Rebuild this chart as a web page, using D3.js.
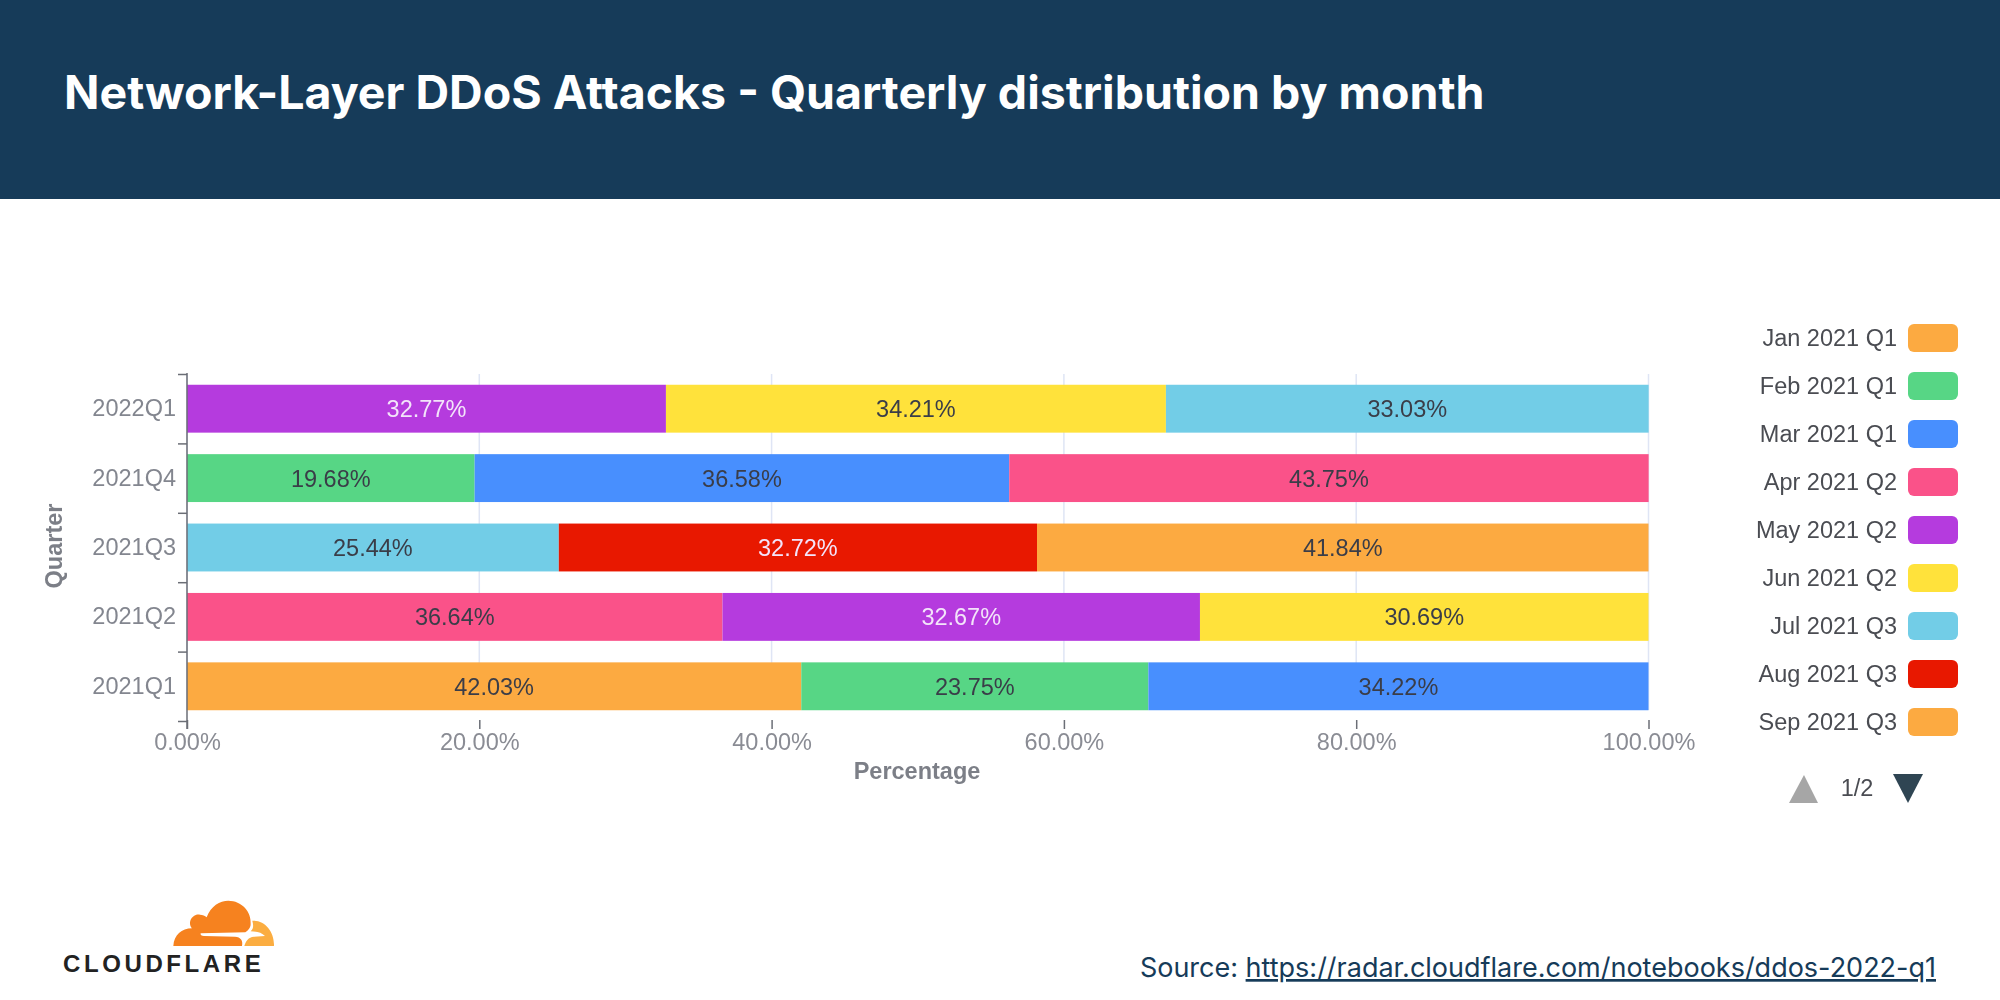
<!DOCTYPE html>
<html>
<head>
<meta charset="utf-8">
<script src="https://cdn.jsdelivr.net/npm/d3@7"></script>
<style>
  html, body { margin: 0; padding: 0; background: #fff; }
  svg { display: block; }
  text { font-family: "Liberation Sans", Arial, sans-serif; }
  .inter { font-family: Inter, sans-serif; }
  .axis path { display: none; }
</style>
</head>
<body>
<script>
// Months in legend order, page 2 of the legend is not shown in the picture
const months = [
  'Jan 2021 Q1', 'Feb 2021 Q1', 'Mar 2021 Q1',
  'Apr 2021 Q2', 'May 2021 Q2', 'Jun 2021 Q2',
  'Jul 2021 Q3', 'Aug 2021 Q3', 'Sep 2021 Q3',
  'Oct 2021 Q4', 'Nov 2021 Q4', 'Dec 2021 Q4',
  'Jan 2022 Q1', 'Feb 2022 Q1', 'Mar 2022 Q1',
];
const legendMonths = months.slice(0, 9);
const quarters = ['2022Q1', '2021Q4', '2021Q3', '2021Q2', '2021Q1'];
const palette = ['#fcaa41', '#57d685', '#488ffe', '#fa5289', '#b53bde', '#ffe23b', '#72cde7', '#e81800'];
const lightLabels = ['#b53bde', '#e81800'];
const xTicks = [0, 20, 40, 60, 80, 100];

// one list per quarter, values in the same order as the months of that quarter
const q2021Q1 = [42.03, 23.75, 34.22];
const q2021Q2 = [36.64, 32.67, 30.69];
const q2021Q3 = [25.44, 32.72, 41.84];
const q2021Q4 = [19.68, 36.58, 43.75];
const q2022Q1 = [32.77, 34.21, 33.03];

const quarterMonths = {
  '2021Q1': [months.slice(0, 3), q2021Q1],
  '2021Q2': [months.slice(3, 6), q2021Q2],
  '2021Q3': [months.slice(6, 9), q2021Q3],
  '2021Q4': [months.slice(9, 12), q2021Q4],
  '2022Q1': [months.slice(12, 15), q2022Q1],
};

const table = quarters.map((q) => {
  const row = { quarter: q };
  months.forEach((m) => { row[m] = 0; });
  quarterMonths[q][0].forEach((m, i) => { row[m] = quarterMonths[q][1][i]; });
  return row;
});

const w = 2000;
const h = 1000;
const headerColor = '#163b59';

const svg = d3.select('body').append('svg').attr('width', w).attr('height', h);

// header band
svg.append('rect').attr('width', w).attr('height', 199).attr('fill', headerColor);
svg.append('text')
  .attr('class', 'inter')
  .attr('x', 64)
  .attr('y', 109)
  .attr('fill', '#fff')
  .attr('font-size', 46.5)
  .attr('font-weight', 700)
  .text('Network-Layer DDoS Attacks - Quarterly distribution by month');

// scales
const x = d3.scaleLinear().domain([0, 100]).range([187, 1648.5]);
const y = d3.scaleBand().domain(quarters).range([374, 721]).paddingInner(0.31).paddingOuter(0.155);
const yEdges = d3.scaleLinear().domain([0, quarters.length]).range([374, 721]);
const color = d3.scaleOrdinal(months, palette);

const chart = svg.append('g').style('filter', 'blur(0.6px)');

// grid
chart.append('g')
  .selectAll('line')
  .data(xTicks)
  .enter()
  .append('line')
  .attr('x1', (d) => x(d))
  .attr('x2', (d) => x(d))
  .attr('y1', 374)
  .attr('y2', 710)
  .attr('stroke', '#dfe5f5')
  .attr('stroke-width', 1.5);

// bars
const stacked = d3.stack().keys(months)(table);
const cells = stacked.flatMap((s) =>
  s.filter((d) => d[1] > d[0]).map((d) => ({ month: s.key, quarter: d.data.quarter, x0: d[0], x1: d[1] }))
);

chart.append('g')
  .selectAll('rect')
  .data(cells)
  .enter()
  .append('rect')
  .attr('x', (d) => x(d.x0))
  .attr('y', (d) => y(d.quarter))
  .attr('width', (d) => x(d.x1) - x(d.x0))
  .attr('height', y.bandwidth())
  .attr('fill', (d) => color(d.month));

chart.append('g')
  .selectAll('text')
  .data(cells)
  .enter()
  .append('text')
  .attr('x', (d) => x((d.x0 + d.x1) / 2))
  .attr('y', (d) => y(d.quarter) + y.bandwidth() / 2)
  .attr('dy', '0.36em')
  .attr('text-anchor', 'middle')
  .attr('font-size', 23.5)
  .attr('fill', (d) => (lightLabels.includes(color(d.month)) ? '#f3e4fa' : '#3a3d48'))
  .text((d) => (d.x1 - d.x0).toFixed(2) + '%');

// axes
const xAxis = chart.append('g')
  .attr('class', 'axis')
  .attr('transform', 'translate(0,720)')
  .call(d3.axisBottom(x).tickValues(xTicks).tickSize(9).tickPadding(4).tickFormat((d) => d.toFixed(2) + '%'));
xAxis.selectAll('line').attr('stroke', '#6b6e76').attr('stroke-width', 1.5);
xAxis.selectAll('text').attr('fill', '#8a8c94').attr('font-size', 23.5).attr('font-family', 'Liberation Sans');

const yEdgeAxis = chart.append('g')
  .attr('class', 'axis')
  .attr('transform', 'translate(187,0)')
  .call(d3.axisLeft(yEdges).ticks(quarters.length).tickSize(9).tickFormat(''));
yEdgeAxis.selectAll('line').attr('stroke', '#6b6e76').attr('stroke-width', 1.5);

chart.append('line')
  .attr('x1', 187).attr('x2', 187)
  .attr('y1', 373).attr('y2', 729)
  .attr('stroke', '#6b6e76').attr('stroke-width', 1.5);

const yAxis = chart.append('g')
  .attr('class', 'axis')
  .attr('transform', 'translate(187,0)')
  .call(d3.axisLeft(y).tickSize(0).tickPadding(11));
yAxis.selectAll('text').attr('fill', '#83868f').attr('font-size', 23.5).attr('font-family', 'Liberation Sans');

// axis titles
chart.append('text')
  .attr('transform', 'translate(54,546) rotate(-90)')
  .attr('dy', '0.36em')
  .attr('text-anchor', 'middle')
  .attr('font-size', 23.5)
  .attr('font-weight', 700)
  .attr('fill', '#7c7f87')
  .text('Quarter');
chart.append('text')
  .attr('x', 917)
  .attr('y', 771)
  .attr('dy', '0.36em')
  .attr('text-anchor', 'middle')
  .attr('font-size', 23.5)
  .attr('font-weight', 700)
  .attr('fill', '#7c7f87')
  .text('Percentage');

// legend
const legend = chart.append('g')
  .selectAll('g')
  .data(legendMonths)
  .enter()
  .append('g')
  .attr('transform', (d, i) => `translate(0,${338 + i * 48})`);
legend.append('rect')
  .attr('x', 1908)
  .attr('y', -14)
  .attr('width', 50)
  .attr('height', 28)
  .attr('rx', 6)
  .attr('fill', (d) => color(d));
legend.append('text')
  .attr('x', 1897)
  .attr('dy', '0.36em')
  .attr('text-anchor', 'end')
  .attr('font-size', 23.5)
  .attr('fill', '#4a4c52')
  .text((d) => d);

// legend pager
chart.append('path').attr('d', 'M1804,775L1818,803L1789,803Z').attr('fill', '#a6a6a6');
chart.append('path').attr('d', 'M1893,774L1923,774L1908,803Z').attr('fill', '#2f4553');
chart.append('text')
  .attr('x', 1857)
  .attr('y', 788)
  .attr('dy', '0.36em')
  .attr('text-anchor', 'middle')
  .attr('font-size', 23.5)
  .attr('fill', '#4a4c52')
  .text('1/2');

// source line
const source = svg.append('text')
  .attr('class', 'inter')
  .attr('x', 1936)
  .attr('y', 977)
  .attr('text-anchor', 'end')
  .attr('font-size', 27)
  .attr('fill', headerColor);
source.append('tspan').text('Source: ');
source.append('tspan').attr('text-decoration', 'underline').text('https://radar.cloudflare.com/notebooks/ddos-2022-q1');

// logo, path coordinates are in 3x pixels
const logo = svg.append('g').attr('transform', 'translate(0,880) scale(0.3333)');
logo.append('path')
  .attr('d', 'M520,198C522,165 545,145 576,145C560,125 580,100 600,104C608,104 615,107 620,112C632,78 660,62 685,62C725,62 755,95 752,133C752,142 745,152 736,157L602,160C600,165 605,168 612,168L705,170C722,171 730,182 726,198Z')
  .attr('fill', '#f6821f');
logo.append('path')
  .attr('d', 'M757,122C795,120 824,155 822,198L733,198C738,182 745,172 762,170L795,168C785,158 772,155 752,154C762,146 760,134 757,122Z')
  .attr('fill', '#fbad41');
svg.append('text')
  .attr('x', 63)
  .attr('y', 972)
  .attr('font-family', 'Lato')
  .attr('font-weight', 900)
  .attr('font-size', 24)
  .attr('letter-spacing', 3.6)
  .attr('fill', '#222')
  .text('CLOUDFLARE');
</script>
</body>
</html>
